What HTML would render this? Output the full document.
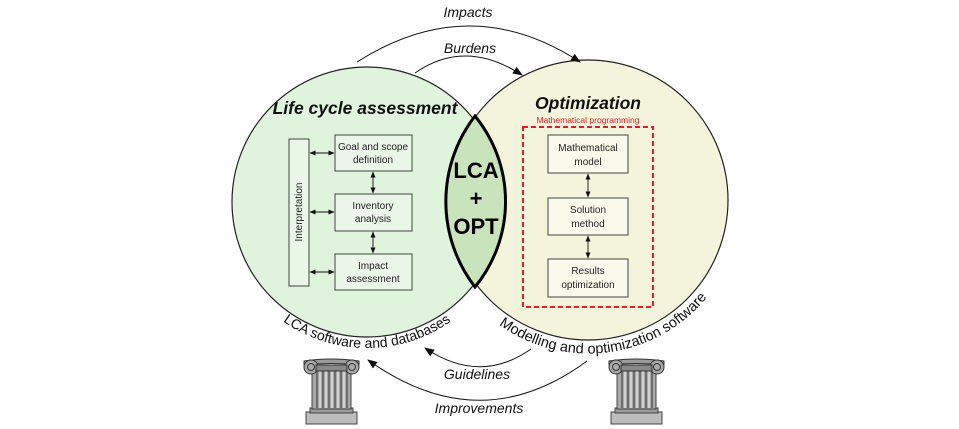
<!DOCTYPE html>
<html><head><meta charset="utf-8"><style>
html,body{margin:0;padding:0;background:#fff;}
svg{display:block;font-family:"Liberation Sans",sans-serif;}
</style></head><body>
<svg width="959" height="429" viewBox="0 0 959 429" xmlns="http://www.w3.org/2000/svg">
<defs>
<marker id="ah" markerWidth="10" markerHeight="10" refX="9" refY="5" orient="auto" markerUnits="userSpaceOnUse"><path d="M0,1 L10,5 L0,9 Z" fill="#111"/></marker>
<marker id="sa" markerWidth="6" markerHeight="6" refX="5.5" refY="3" orient="auto-start-reverse" markerUnits="userSpaceOnUse"><path d="M0,0.5 L6,3 L0,5.5 Z" fill="#111"/></marker>
<g id="pillar">
<rect x="4" y="55" width="51" height="12" fill="#bdbdbd" stroke="#444" stroke-width="1"/>
<rect x="8" y="51" width="43" height="5" fill="#9a9a9a" stroke="#444" stroke-width="1"/>
<rect x="10" y="13" width="39" height="39" fill="#a8a8a8" stroke="#444" stroke-width="1"/>
<g stroke="#555" stroke-width="1.4"><line x1="15" y1="14" x2="15" y2="51"/><line x1="21" y1="14" x2="21" y2="51"/><line x1="27" y1="14" x2="27" y2="51"/><line x1="33" y1="14" x2="33" y2="51"/><line x1="39" y1="14" x2="39" y2="51"/><line x1="45" y1="14" x2="45" y2="51"/></g>
<g stroke="#eee" stroke-width="1.2"><line x1="18" y1="14" x2="18" y2="51"/><line x1="24" y1="14" x2="24" y2="51"/><line x1="30" y1="14" x2="30" y2="51"/><line x1="36" y1="14" x2="36" y2="51"/><line x1="42" y1="14" x2="42" y2="51"/></g>
<path d="M2,4 Q29,0 57,4 L57,8 Q29,5 2,8 Z" fill="#9a9a9a" stroke="#333"/>
<circle cx="9" cy="10" r="7" fill="#aaa" stroke="#333"/><circle cx="9" cy="10" r="3.5" fill="none" stroke="#333"/>
<circle cx="50" cy="10" r="7" fill="#aaa" stroke="#333"/><circle cx="50" cy="10" r="3.5" fill="none" stroke="#333"/>
<rect x="14" y="8" width="31" height="6" fill="#888" stroke="#333"/>
</g>
</defs>

<circle cx="367" cy="202" r="135" fill="#dff3dd" stroke="#222" stroke-width="1.2"/>
<circle cx="588" cy="200" r="140" fill="#f4f3dc" stroke="#222" stroke-width="1.2"/>
<path d="M475,116 A140,140 0 0 0 475,287 A135,135 0 0 0 475,116 Z" fill="#c9e4bd" stroke="#000" stroke-width="3"/>

<text x="365" y="114" font-size="17.5" font-weight="bold" font-style="italic" text-anchor="middle" fill="#111">Life cycle assessment</text>
<text x="588" y="109" font-size="17.5" font-weight="bold" font-style="italic" text-anchor="middle" fill="#111">Optimization</text>

<text x="476" y="178" font-size="22" font-weight="bold" text-anchor="middle" fill="#000">LCA</text>
<text x="476" y="206" font-size="22" font-weight="bold" text-anchor="middle" fill="#000">+</text>
<text x="476" y="234" font-size="22" font-weight="bold" text-anchor="middle" fill="#000">OPT</text>

<g stroke="#444" stroke-width="1" fill="#eaf6e8">
<rect x="289" y="139" width="20" height="147"/>
<rect x="335" y="135" width="77" height="36"/>
<rect x="335" y="194" width="77" height="37"/>
<rect x="335" y="254" width="77" height="36"/>
</g>
<text transform="translate(302,212) rotate(-90)" font-size="10" text-anchor="middle" fill="#222">Interpretation</text>
<g font-size="10" text-anchor="middle" fill="#222">
<text x="373" y="150">Goal and scope</text><text x="373" y="163">definition</text>
<text x="373" y="209">Inventory</text><text x="373" y="222">analysis</text>
<text x="373" y="269">Impact</text><text x="373" y="282">assessment</text>
</g>
<g stroke="#111" stroke-width="0.9" marker-start="url(#sa)" marker-end="url(#sa)">
<line x1="310" y1="153" x2="334" y2="153"/>
<line x1="310" y1="212" x2="334" y2="212"/>
<line x1="310" y1="272" x2="334" y2="272"/>
<line x1="373" y1="172" x2="373" y2="193"/>
<line x1="373" y1="232" x2="373" y2="253"/>
</g>

<text x="588" y="123" font-size="8.5" text-anchor="middle" fill="#e02020">Mathematical programming</text>
<rect x="523" y="127" width="130" height="180" fill="none" stroke="#e02020" stroke-width="2" stroke-dasharray="5,3"/>
<g stroke="#444" stroke-width="1" fill="#f9f9ec">
<rect x="548" y="135" width="80" height="38"/>
<rect x="548" y="198" width="80" height="37"/>
<rect x="548" y="259" width="80" height="38"/>
</g>
<g font-size="10" text-anchor="middle" fill="#222">
<text x="588" y="151">Mathematical</text><text x="588" y="165">model</text>
<text x="588" y="213">Solution</text><text x="588" y="227">method</text>
<text x="588" y="274">Results</text><text x="588" y="288">optimization</text>
</g>
<g stroke="#111" stroke-width="0.9" marker-start="url(#sa)" marker-end="url(#sa)">
<line x1="588" y1="174" x2="588" y2="197"/>
<line x1="588" y1="236" x2="588" y2="258"/>
</g>

<path d="M357,62 Q470,-10 580,62" fill="none" stroke="#111" stroke-width="1" marker-end="url(#ah)"/>
<text x="468" y="17" font-size="14" font-style="italic" text-anchor="middle" fill="#111">Impacts</text>
<path d="M415,73 Q465,38 522,75" fill="none" stroke="#111" stroke-width="1" marker-end="url(#ah)"/>
<text x="470" y="53" font-size="14" font-style="italic" text-anchor="middle" fill="#111">Burdens</text>

<path id="lp" d="M255.2,295.9 A146,146 0 0 0 478.8,295.9" fill="none"/>
<text font-size="14" fill="#111"><textPath href="#lp" startOffset="50%" text-anchor="middle">LCA software and databases</textPath></text>
<path id="rp" d="M469.1,296.3 A153,153 0 0 0 731,256" fill="none"/>
<text font-size="14.5" fill="#111"><textPath href="#rp" startOffset="49%" text-anchor="middle">Modelling and optimization software</textPath></text>

<path d="M531,349 Q480,385 425,348" fill="none" stroke="#111" stroke-width="1" marker-end="url(#ah)"/>
<text x="477" y="379" font-size="14" font-style="italic" text-anchor="middle" fill="#111">Guidelines</text>
<path d="M587,361 Q480,440 368,360" fill="none" stroke="#111" stroke-width="1" marker-end="url(#ah)"/>
<text x="479" y="413" font-size="14" font-style="italic" text-anchor="middle" fill="#111">Improvements</text>

<use href="#pillar" x="302" y="357"/>
<use href="#pillar" x="607" y="357"/>
</svg>
</body></html>
